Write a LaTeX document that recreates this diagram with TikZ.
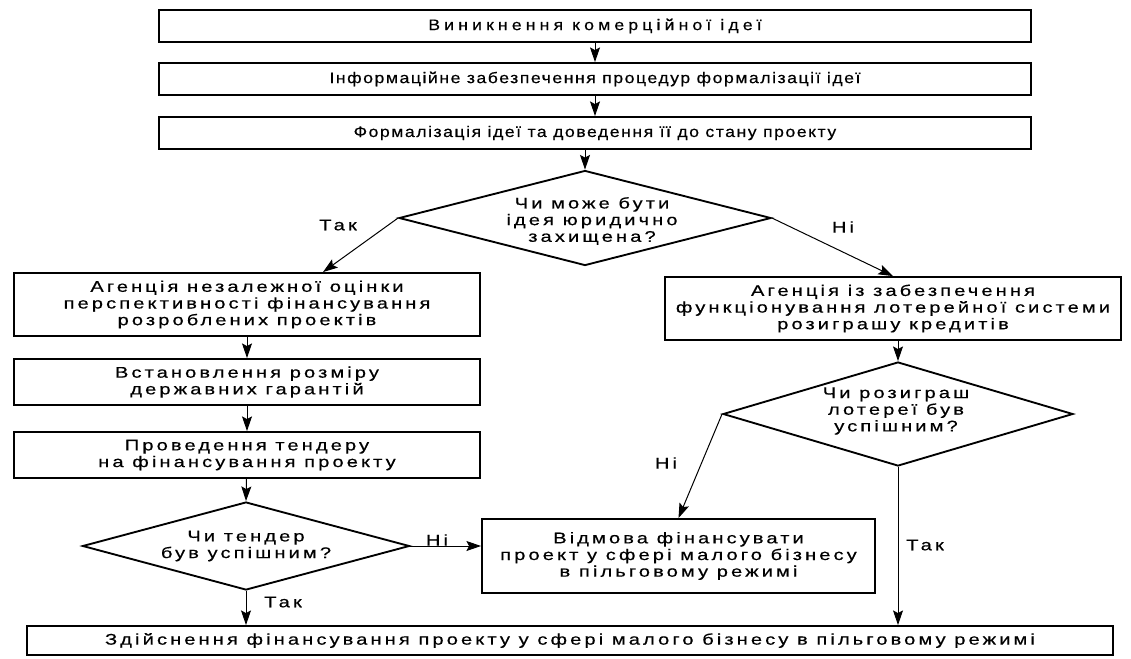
\documentclass[tikz,border=0pt]{standalone}
\usepackage{fontspec}
\setmainfont{Liberation Sans}
\newfontfamily\topfont[FakeStretch=1.15,LetterSpace=10,FakeBold=0.5]{Liberation Sans}
\newfontfamily\lowfont[FakeStretch=1.3,LetterSpace=20,FakeBold=0.5]{Liberation Sans}
\usetikzlibrary{shapes.geometric,arrows.meta}

\tikzset{
  arr/.style={-{Stealth[length=11pt,width=7.5pt,inset=2pt]}, line width=0.75pt},
  box/.style={draw, rectangle, line width=1.4pt, align=center, inner sep=1pt,
    font=\lowfont\fontsize{11.6}{12.5}\selectfont},
  topbox/.style={box, minimum width=654pt, minimum height=24pt,
    font=\topfont\fontsize{11.5}{12.5}\selectfont},
  decision/.style={draw, diamond, line width=1.4pt, inner sep=0pt},
  dtext/.style={align=center, font=\lowfont\fontsize{11.6}{12.5}\selectfont},
  lbl/.style={font=\lowfont\fontsize{11.6}{12.5}\selectfont}
}

\begin{document}
\begin{tikzpicture}[x=0.75pt,y=-0.75pt]
    \useasboundingbox (0,0) rectangle (1131,658);

    % Верхні блоки
    \node[topbox, font=\topfont\fontsize{11.5}{12.5}\selectfont\addfontfeature{LetterSpace=27}]
      (idea) at (595,26) {Виникнення комерційної ідеї};
    \node[topbox] (info) at (595,79) {Інформаційне забезпечення процедур формалізації ідеї};
    \node[topbox] (form) at (595,133) {Формалізація ідеї та доведення її до стану проекту};
    \draw[arr] (idea) -- (info);
    \draw[arr] (info) -- (form);

    % Чи може бути ідея юридично захищена?
    \node[decision, minimum width=279pt, minimum height=71.25pt] (q1) at (585,218) {};
    \node[dtext] (q1t) at (592,221) {Чи може бути\\ідея юридично\\захищена?};
    \draw[arr] (form.south -| q1.north) -- (q1.north);

    % Ліва гілка
    \node[box, minimum width=349.5pt, minimum height=47.25pt] (agency) at (247,304.5)
      {Агенція незалежної оцінки\\перспективності фінансування\\розроблених проектів};
    \node[box, minimum width=349.5pt, minimum height=34.5pt] (guar) at (247,382)
      {Встановлення розміру\\державних гарантій};
    \node[box, minimum width=349.5pt, minimum height=34.5pt] (tender) at (247,455)
      {Проведення тендеру\\на фінансування проекту};
    \node[decision, minimum width=245.25pt, minimum height=66pt] (q2) at (246,546) {};
    \node[dtext] (q2t) at (q2) {Чи тендер\\був успішним?};

    \draw[arr] (q1.west) -- ([xshift=57pt]agency.north);
    \node[lbl] (yes1) at (338,225) {Так};
    \draw[arr] (agency) -- (guar);
    \draw[arr] (guar) -- (tender);
    \draw[arr] (tender) -- (q2.north);

    % Права гілка
    \node[box, minimum width=342pt, minimum height=47.25pt] (lot) at (893,308.5)
      {Агенція із забезпечення\\функціонування лотерейної системи\\розиграшу кредитів};
    \node[decision, minimum width=262.5pt, minimum height=78pt] (q3) at (898,414) {};
    \node[dtext] (q3t) at (896,411) {Чи розиграш\\лотереї був\\успішним?};

    \draw[arr] (q1.east) -- (lot.north);
    \node[lbl] (no1) at (843,227) {Ні};
    \draw[arr] (lot.south -| q3.north) -- (q3.north);

    % Відмова
    \node[box, minimum width=294.75pt, minimum height=55.5pt] (refuse) at (678.5,556)
      {Відмова фінансувати\\проект у сфері малого бізнесу\\в пільговому режимі};
    \draw[arr] (q3.west) -- (refuse.north);
    \node[lbl] (no3) at (666,463) {Ні};
    \draw[arr] (q2.east) -- (q2.east -| refuse.west);
    \node[lbl] (no2) at (437,540) {Ні};

    % Фінансування
    \node[box, minimum width=814.5pt, minimum height=21.75pt] (fin) at (570,640.5)
      {Здійснення фінансування проекту у сфері малого бізнесу в пільговому режимі};
    \draw[arr] (q2.south) -- (q2.south |- fin.north);
    \node[lbl] (yes2) at (283,602) {Так};
    \draw[arr] (q3.south) -- (q3.south |- fin.north);
    \node[lbl] (yes3) at (925,545) {Так};
\end{tikzpicture}
\end{document}
